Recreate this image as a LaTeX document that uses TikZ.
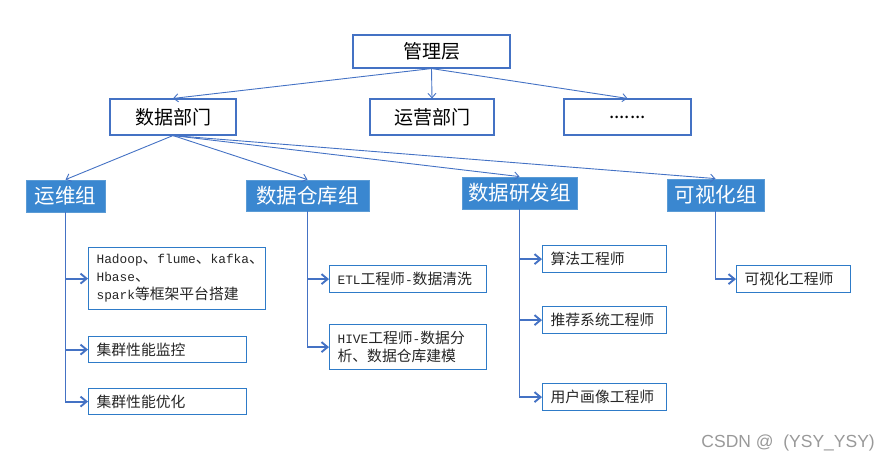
\documentclass[tikz,border=0pt]{standalone}
\usepackage{fontspec}
\usetikzlibrary{arrows.meta}
\newfontfamily\cjk{Noto Sans CJK SC}
\newfontfamily\latmono{Liberation Mono}
\newfontfamily\wmfont{Liberation Sans}
\newcommand{\tl}[1]{{\latmono\fontsize{12.8}{18}\selectfont #1}}
\definecolor{linec}{HTML}{4472C4}
\definecolor{topb}{HTML}{4472C4}
\definecolor{grpf}{HTML}{3A87D0}
\definecolor{grpb}{HTML}{5B9BD5}
\definecolor{leafb}{HTML}{2E7BC8}
\tikzset{
  topbox/.style={draw=topb, line width=1.1pt, fill=white, inner sep=0pt,
    font=\cjk\fontsize{19}{22}\selectfont, text=black},
  grpbox/.style={draw=grpb, line width=0.8pt, fill=grpf, inner sep=0pt,
    font=\cjk\fontsize{20.5}{24}\selectfont, text=white},
  leafbox/.style={draw=leafb, line width=1.2pt, fill=white, inner xsep=8pt, inner ysep=0pt,
    anchor=north west, align=left, font=\cjk\fontsize{14.8}{18}\selectfont, text=black!85},
  toparr/.style={draw=linec, line width=0.9pt, -{Straight Barb[length=4.5pt,width=8pt]}},
  branch/.style={draw=linec, line width=1.9pt, -{Straight Barb[length=6pt,width=10pt]}}
}
\begin{document}
\begin{tikzpicture}[x=1pt,y=-1pt]
\useasboundingbox (0,0) rectangle (887,463);
% top level
\node[topbox, minimum width=157pt, minimum height=33pt] (mgmt) at (431.5,51.5) {管理层};
\node[topbox, minimum width=126pt, minimum height=36pt] (dept) at (173,117) {数据部门};
\node[topbox, minimum width=124pt, minimum height=36pt] (ops) at (432,117) {运营部门};
\node[topbox, minimum width=127pt, minimum height=36pt] (etc) at (627.5,117) {.......};
% groups
\node[grpbox, minimum width=79pt, minimum height=32pt] (g1) at (65.5,196) {运维组};
\node[grpbox, minimum width=123pt, minimum height=31pt] (g2) at (307.5,195.5) {数据仓库组};
\node[grpbox, minimum width=115pt, minimum height=32pt] (g3) at (519.5,193) {数据研发组};
\node[grpbox, minimum width=97pt, minimum height=32pt] (g4) at (715.5,195) {可视化组};
% leaves
\node[leafbox, text width=161pt, minimum height=62pt] (h) at (88,247)
  {\tl{Hadoop}、\tl{flume}、\tl{kafka}、\\\tl{Hbase}、\\\tl{spark}等框架平台搭建};
\node[leafbox, text width=142pt, minimum height=26pt] (m1) at (88,336) {集群性能监控};
\node[leafbox, text width=142pt, minimum height=26pt] (m2) at (88,388) {集群性能优化};
\node[leafbox, text width=141pt, minimum height=27pt] (etl) at (329,265) {\tl{ETL}工程师\tl{-}数据清洗};
\node[leafbox, text width=141pt, minimum height=45pt] (hive) at (329,324) {\tl{HIVE}工程师\tl{-}数据分\\析、数据仓库建模};
\node[leafbox, text width=108pt, minimum height=27pt] (a1) at (542,245) {算法工程师};
\node[leafbox, text width=108pt, minimum height=27pt] (a2) at (542,306) {推荐系统工程师};
\node[leafbox, text width=108pt, minimum height=27pt] (a3) at (542,383) {用户画像工程师};
\node[leafbox, text width=98pt, minimum height=27pt] (v1) at (736,265) {可视化工程师};
% top arrows
\draw[toparr] (mgmt.south) -- (dept.north);
\draw[toparr] (mgmt.south) -- (ops.north);
\draw[toparr] (mgmt.south) -- (etc.north);
\draw[toparr] (dept.south) -- (g1.north);
\draw[toparr] (dept.south) -- (g2.north);
\draw[toparr] (dept.south) -- (g3.north);
\draw[toparr] (dept.south) -- (g4.north);
% branches
\draw[branch] (g1.south) |- (h.west);
\draw[branch] (g1.south) |- (m1.west);
\draw[branch] (g1.south) |- (m2.west);
\draw[branch] (g2.south) |- (etl.west);
\draw[branch] (g2.south) |- (hive.west);
\draw[branch] (g3.south) |- (a1.west);
\draw[branch] (g3.south) |- (a2.west);
\draw[branch] (g3.south) |- (a3.west);
\draw[branch] (g4.south) |- (v1.west);
% watermark
\node[anchor=east, inner sep=0pt, text=black!40, font=\wmfont\fontsize{17.5}{20}\selectfont] (wm) at (875,443) {CSDN @ \ (YSY\_YSY)};
\end{tikzpicture}
\end{document}
